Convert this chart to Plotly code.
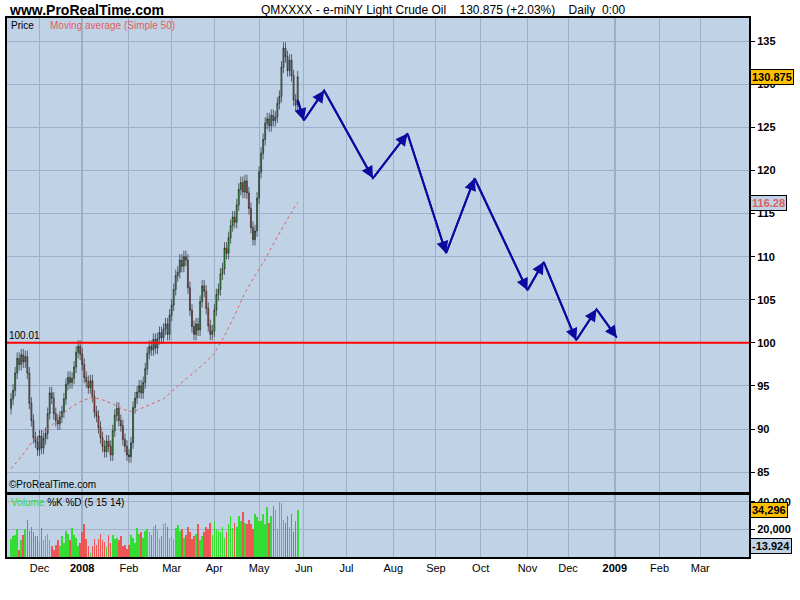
import plotly.graph_objects as go
import pandas as pd

# daily closes, Nov 13 2007 onwards (business days)
closes = [
    93.5, 94.5, 96.5, 98.2, 97.5, 98.6, 97.8, 98.4, 96.5, 93.0,
    91.0, 89.0, 88.5, 87.6, 89.2, 87.8, 88.9, 89.5, 91.8, 94.2,
    93.6, 91.8, 91.0, 90.6, 91.4, 92.0, 93.5, 95.2, 96.0, 95.4,
    95.9, 97.2, 98.9, 99.6, 98.7, 97.5, 96.0, 95.5, 94.8, 95.6,
    93.8, 92.0, 91.5, 90.2, 89.0, 88.0, 87.4, 88.6, 88.0, 87.0,
    89.8, 91.6, 92.4, 91.0, 90.4, 88.8, 88.0, 87.0, 86.8, 88.4,
    92.5, 93.6, 94.3, 95.0, 94.2, 95.4, 97.0, 98.8, 99.6, 99.2,
    100.4, 99.4, 100.5, 101.2, 100.6, 101.6, 102.2, 101.0, 103.2, 104.4,
    106.2, 107.8, 108.2, 109.6, 108.9, 110.0, 109.6, 106.4, 103.8, 101.9,
    101.0, 102.2, 101.5, 104.8, 106.6, 106.0, 104.0, 102.0, 101.0, 101.4,
    103.8, 105.6, 106.2, 108.0, 108.6, 111.0, 110.4, 112.2, 113.6, 114.6,
    114.0, 116.0, 117.8, 118.6, 117.5, 118.8, 117.4, 115.6, 113.4, 112.0,
    113.0, 116.8, 119.8, 122.0, 123.6, 125.5, 126.0, 125.2, 126.4, 125.8,
    126.2, 127.8, 128.6, 132.0, 134.2, 133.2, 131.6, 132.8, 131.0, 128.2,
    127.6, 130.875,
]
first_open = 92.4
wick = 0.7

# volume in thousands of contracts
volumes = [
    13, 15, 16, 20, 5, 12, 16, 20, 27, 19,
    22, 18, 15, 15, 11, 21, 12, 15, 17, 12,
    8, 5, 9, 12, 8, 15, 10, 19, 17, 12,
    21, 16, 14, 8, 10, 18, 24, 13, 8, 3,
    8, 13, 9, 13, 17, 12, 11, 7, 16, 10,
    16, 13, 14, 12, 15, 8, 9, 6, 9, 16,
    14, 10, 21, 17, 18, 14, 19, 20, 18, 16,
    22, 23, 20, 13, 15, 24, 25, 22, 14, 15,
    13, 21, 23, 19, 20, 14, 16, 22, 18, 13,
    15, 17, 24, 12, 15, 18, 22, 20, 25, 16,
    26, 20, 19, 18, 22, 14, 18, 24, 30, 21,
    25, 22, 30, 26, 33, 25, 24, 27, 24, 20,
    31, 29, 26, 26, 31, 24, 36, 25, 30, 37,
    34, 20, 40, 39, 27, 25, 30, 22, 31, 18,
    26, 34,
]

ma_every = 5
ma_values = [85.4, 86.8, 88.4, 89.6, 90.4, 91.7, 92.6, 93.3, 93.7, 93.4,
             92.9, 92.3, 92.0, 92.5, 93.0, 93.5, 94.6, 95.6, 96.7, 97.6,
             98.8, 100.8, 103.2, 105.8, 107.8, 109.7, 111.9, 114.0, 116.0]
ma_last = 116.28

proj_dates = ["2008-05-28", "2008-06-02", "2008-06-16", "2008-07-18", "2008-08-12",
              "2008-09-08", "2008-09-26", "2008-11-03", "2008-11-13", "2008-12-05",
              "2008-12-19", "2009-01-02"]
proj_prices = [128.2, 125.8, 129.3, 119.1, 124.3, 110.4, 119.1, 106.1, 109.4,
               100.3, 103.9, 100.6]

support = 100.01
month_ticks = ["2007-12-01", "2008-01-01", "2008-02-01", "2008-03-01", "2008-04-01",
               "2008-05-01", "2008-06-01", "2008-07-01", "2008-08-01", "2008-09-01",
               "2008-10-01", "2008-11-01", "2008-12-01", "2009-01-01", "2009-02-01",
               "2009-03-01"]
month_labels = ["Dec", "<b>2008</b>", "Feb", "Mar", "Apr", "May", "Jun", "Jul", "Aug",
                "Sep", "Oct", "Nov", "Dec", "<b>2009</b>", "Feb", "Mar"]
view_start, view_end = "2007-11-09", "2009-04-03"

# trading-day axis: every weekday gets one slot
days = pd.bdate_range("2007-11-01", "2009-05-01")
def slot(d):
    return int(days.searchsorted(pd.Timestamp(d)))

dates = pd.bdate_range("2007-11-13", periods=len(closes))
xs = [slot(d) for d in dates]
opens = [first_open] + closes[:-1]
highs = [max(o, c) + wick for o, c in zip(opens, closes)]
lows = [min(o, c) - wick for o, c in zip(opens, closes)]
vol_colors = ["#33dd33" if c >= o else "#ee5555" for o, c in zip(opens, closes)]
ma_x = xs[::ma_every] + [xs[-1]]
px = [slot(d) for d in proj_dates]
tick_x = [slot(d) for d in month_ticks]

BG = "#c0d2e6"
GRID = "#9eb0c8"
FONT = "Liberation Sans"

fig = go.Figure()
fig.add_trace(go.Candlestick(
    x=xs, open=opens, high=highs, low=lows, close=closes,
    increasing=dict(fillcolor="#3cc03c", line=dict(color="#111111", width=0.6)),
    decreasing=dict(fillcolor="#e06060", line=dict(color="#111111", width=0.6)),
    whiskerwidth=0, showlegend=False, xaxis="x", yaxis="y"))
fig.add_trace(go.Scatter(x=ma_x, y=ma_values + [ma_last], mode="lines",
                         line=dict(color="#e06060", width=1, dash="dot"),
                         showlegend=False, xaxis="x", yaxis="y"))
fig.add_trace(go.Scatter(x=px, y=proj_prices, mode="lines",
                         line=dict(color="#0a0aa0", width=2),
                         showlegend=False, xaxis="x", yaxis="y"))
fig.add_trace(go.Bar(x=xs, y=[v * 1000 for v in volumes], marker_color=vol_colors,
                     marker_line_width=0, width=0.3,
                     showlegend=False, xaxis="x2", yaxis="y2"))

ann = []
for i in range(1, len(px)):
    ann.append(dict(x=px[i], y=proj_prices[i], ax=px[i - 1], ay=proj_prices[i - 1],
                    xref="x", yref="y", axref="x", ayref="y", text="", showarrow=True,
                    arrowhead=2, arrowsize=1.2, arrowwidth=2, arrowcolor="#0a0aa0"))

def txt(x, y, s, color="black", size=11, xref="paper", yref="paper", xanchor="left", **kw):
    ann.append(dict(x=x, y=y, xref=xref, yref=yref, text=s, showarrow=False, xanchor=xanchor,
                    font=dict(family=FONT, size=size, color=color), **kw))

txt(0.0, 1.0, "<b>www.ProRealTime.com</b>", size=14, yanchor="bottom", yshift=-2)
txt(0.34, 1.0, "QMXXXX - e-miNY Light Crude Oil    130.875 (+2.03%)    Daily  0:00",
    size=12, yanchor="bottom", yshift=-1)
txt(0.003, 1.0, "Price", size=10, yanchor="top")
txt(0.055, 1.0, "Moving average (Simple 50)", size=10, color="#e06060", yanchor="top")
txt(0.0, 0.1206, "©ProRealTime.com", size=10, yanchor="bottom")
txt(0.0, support, "100.01", yref="y", size=10, yanchor="bottom")
txt(0.003, 0.115, "<span style='color:#33dd33'>Volume</span> %K %D (5 15 14)",
    size=10, yanchor="top")
box = dict(bordercolor="black", borderwidth=1, borderpad=1, xshift=1)
txt(1.0, closes[-1], "<b>130.875</b>", yref="y", size=11, bgcolor="#ffc000", **box)
txt(1.0, ma_last, "<b>116.28</b>", yref="y", size=11, color="#e06060", bgcolor=BG, **box)
txt(1.0, 34296, "<b>34,296</b>", yref="y2", size=11, bgcolor="#ffc000", **box)
txt(1.0, 8000, "<b>-13.924</b>", yref="y2", size=11, bgcolor=BG, **box)

shapes = [dict(type="line", xref="paper", x0=0, x1=1, yref="y", y0=support, y1=support,
               line=dict(color="red", width=2))]
for d in ["2008-01-01", "2009-01-01"]:
    for ya in ["y", "y2"]:
        shapes.append(dict(type="line", xref="x", x0=slot(d), x1=slot(d), yref=f"{ya} domain",
                           y0=0, y1=1, line=dict(color="#6a7d92", width=1.2), layer="below"))

xcommon = dict(range=[slot(view_start), slot(view_end)],
               tickvals=tick_x, ticktext=month_labels, gridcolor=GRID, zeroline=False,
               showline=True, linecolor="black", linewidth=2, mirror=True,
               rangeslider=dict(visible=False), ticks="")

fig.update_layout(
    width=800, height=600, paper_bgcolor="white", plot_bgcolor=BG,
    margin=dict(l=5, r=51, t=18, b=43), bargap=0,
    font=dict(family=FONT, size=11, color="black"),
    xaxis=dict(xcommon, anchor="y", showticklabels=False, matches="x2"),
    xaxis2=dict(xcommon, anchor="y2", tickfont=dict(size=11)),
    yaxis=dict(domain=[0.1206, 1], range=[82.7, 137.7], side="right",
               tickvals=[85, 90, 95, 100, 105, 110, 115, 120, 125, 130, 135],
               ticktext=[f"<b>{v}</b>" for v in [85, 90, 95, 100, 105, 110, 115, 120, 125, 130, 135]],
               gridcolor=GRID, showline=True, linecolor="black", linewidth=2, mirror=True,
               ticks="outside", ticklen=4, tickcolor="black", zeroline=False),
    yaxis2=dict(domain=[0, 0.115], range=[0, 45000], side="right",
                tickvals=[20000, 40000], ticktext=["<b>20,000</b>", "<b>40,000</b>"],
                gridcolor=GRID, showline=True, linecolor="black", linewidth=2, mirror=True,
                ticks="outside", ticklen=4, tickcolor="black", zeroline=False),
    annotations=ann, shapes=shapes,
)
fig.write_html("out.html", config={"displayModeBar": False},
               post_script="document.body.style.margin='0';")
